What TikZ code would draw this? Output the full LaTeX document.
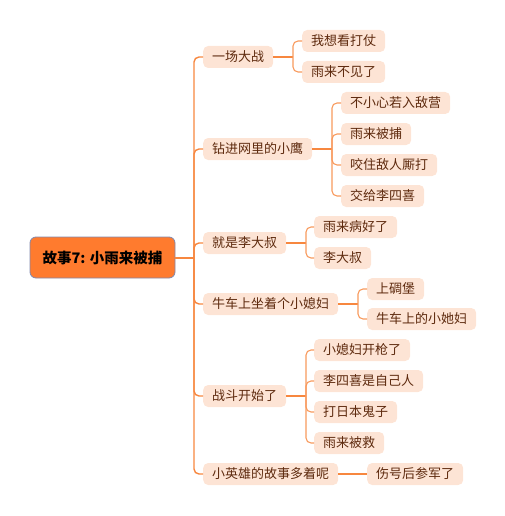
\documentclass[tikz,border=0pt]{standalone}
\usepackage{fontspec}
\setmainfont{Noto Sans CJK SC}
\definecolor{lineor}{HTML}{F7873F}
\definecolor{nodefill}{HTML}{FDE4D5}
\definecolor{txtbrown}{HTML}{5E2A0E}
\definecolor{rootfill}{HTML}{FF7B2E}
\definecolor{rootline}{HTML}{8088AE}
\tikzset{
  topic/.style={anchor=west, fill=nodefill, rounded corners=5pt, text=txtbrown,
    font=\fontsize{13pt}{15pt}\selectfont, inner xsep=9pt, inner ysep=0pt,
    minimum height=22pt, text height=11pt, text depth=2pt},
  rootnode/.style={fill=rootfill, draw=rootline, line width=0.8pt, rounded corners=6pt,
    font=\fontsize{14.5pt}{16pt}\selectfont\bfseries, text=black,
    minimum width=145pt, minimum height=41pt, inner sep=0pt},
  conn1/.style={draw=lineor, line width=1.4pt, rounded corners=5pt},
  conn2/.style={draw=lineor!85, line width=1.1pt, rounded corners=5pt}
}
\begin{document}
\begin{tikzpicture}[x=1pt,y=-1pt]
\useasboundingbox (0,0) rectangle (505,516);
% root
\node[rootnode] (root) at (102.5,257.5) {故事7: 小雨来被捕};
\coordinate (tr) at (194,258);
% level 1
\node[topic] (a) at (203,57) {一场大战};
\node[topic] (b) at (203,149) {钻进网里的小鹰};
\node[topic] (c) at (203,243) {就是李大叔};
\node[topic] (d) at (203,304) {牛车上坐着个小媳妇};
\node[topic] (e) at (203,396) {战斗开始了};
\node[topic] (f) at (203,474) {小英雄的故事多着呢};
% level 2
\node[topic] (a1) at (302,41) {我想看打仗};
\node[topic] (a2) at (302,72) {雨来不见了};
\node[topic] (b1) at (341,103) {不小心若入敌营};
\node[topic] (b2) at (341,134) {雨来被捕};
\node[topic] (b3) at (341,165) {咬住敌人厮打};
\node[topic] (b4) at (341,196) {交给李四喜};
\node[topic] (c1) at (314,227) {雨来病好了};
\node[topic] (c2) at (314,258) {李大叔};
\node[topic] (d1) at (367,289) {上碉堡};
\node[topic] (d2) at (367,319) {牛车上的小她妇};
\node[topic] (e1) at (314,350) {小媳妇开枪了};
\node[topic] (e2) at (314,381) {李四喜是自己人};
\node[topic] (e3) at (314,412) {打日本鬼子};
\node[topic] (e4) at (314,443) {雨来被救};
\node[topic] (f1) at (367,474) {伤号后参军了};
% junction coordinates
\coordinate (ja) at (293,57);
\coordinate (jb) at (332,149);
\coordinate (jc) at (306,243);
\coordinate (jd) at (358,304);
\coordinate (je) at (306,396);
% root connectors
\draw[conn1] (root.east |- tr) -- (tr);
\foreach \n in {a,b,c,d,e,f} { \draw[conn1] (tr) |- (\n.west); }
% level 2 connectors
\draw[conn1] (a.east) -- (ja);
\foreach \n in {a1,a2} { \draw[conn2] (ja) |- (\n.west); }
\draw[conn1] (b.east) -- (jb);
\foreach \n in {b1,b2,b3,b4} { \draw[conn2] (jb) |- (\n.west); }
\draw[conn1] (c.east) -- (jc);
\foreach \n in {c1,c2} { \draw[conn2] (jc) |- (\n.west); }
\draw[conn1] (d.east) -- (jd);
\foreach \n in {d1,d2} { \draw[conn2] (jd) |- (\n.west); }
\draw[conn1] (e.east) -- (je);
\foreach \n in {e1,e2,e3,e4} { \draw[conn2] (je) |- (\n.west); }
\draw[conn1] (f.east) -- (f1.west);
\end{tikzpicture}
\end{document}
